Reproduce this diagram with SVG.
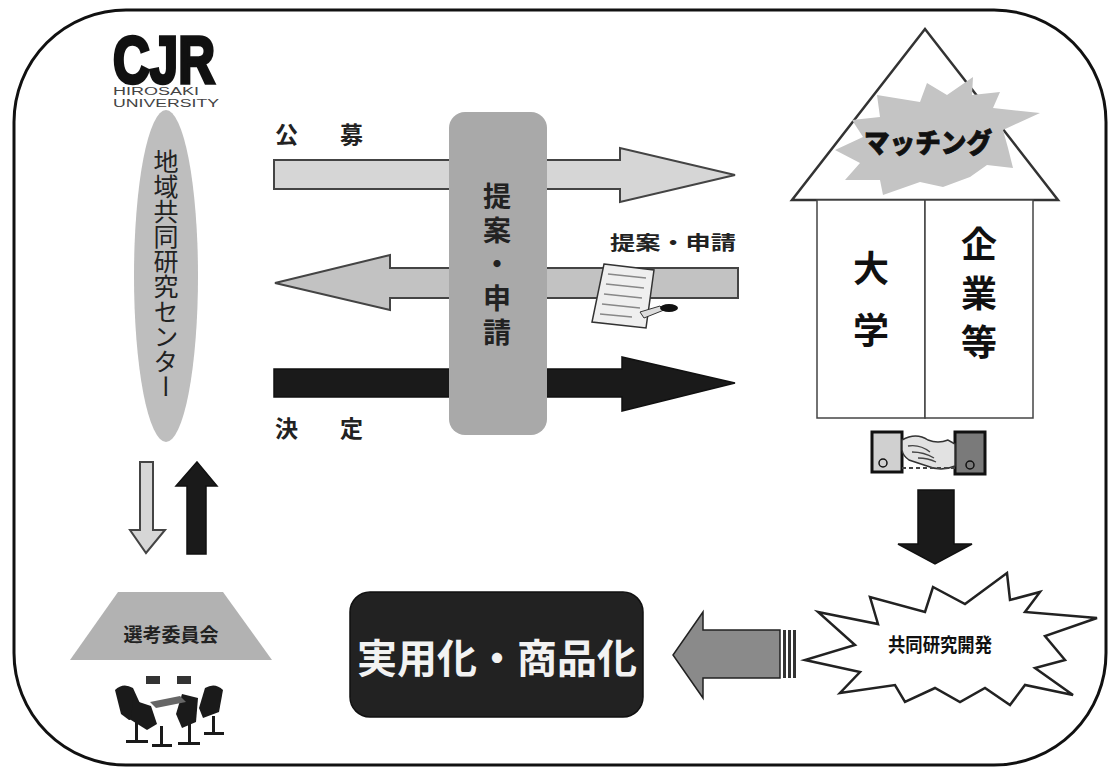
<svg xmlns="http://www.w3.org/2000/svg" width="1108" height="769" viewBox="0 0 1108 769">
  <style>
    .jp { font-family: "Noto Sans CJK JP", "Noto Sans", sans-serif; }
    .b { font-weight: 700; }
    .c { text-anchor: middle; dominant-baseline: central; }
    .vert { writing-mode: vertical-rl; }
    .arrowLight { fill: #d6d6d6; stroke: #444; stroke-width: 2; }
    .arrowMid { fill: #c2c2c2; stroke: #444; stroke-width: 2; }
    .arrowDark { fill: #1a1a1a; stroke: #111; stroke-width: 1.5; }
  </style>

  <rect width="1108" height="769" fill="#ffffff"/>

  <!-- outer frame -->
  <rect x="14" y="10" width="1092" height="755" rx="112" ry="112" fill="none" stroke="#111" stroke-width="3"/>

  <!-- connectors (drawn first so the proposal column sits on top) -->
  <g id="connectors">
    <!-- call for proposals -->
    <polygon class="arrowLight" points="274,160 620,160 620,148 735,175 620,202 620,189 274,189"/>
    <text class="jp b" x="275" y="143" font-size="23" fill="#222">公</text>
    <text class="jp b" x="340" y="143" font-size="23" fill="#222">募</text>

    <!-- application back to centre -->
    <polygon class="arrowMid" points="738,268 390,268 390,255 275,283 390,310 390,298 738,298"/>
    <text class="jp b" x="610" y="250" font-size="19" fill="#222" textLength="126" lengthAdjust="spacingAndGlyphs">提案・申請</text>
    <!-- application form -->
    <g id="form">
      <path d="M604 264 l50 6 l-8 58 l-54 -6 z" fill="#efefef" stroke="#333" stroke-width="1.5"/>
      <path d="M608 274 l38 4 M606 284 l38 4 M604 294 l38 4 M602 304 l38 4 M600 314 l32 3" fill="none" stroke="#888" stroke-width="1.5"/>
      <path d="M640 312 l20 -6 l4 4 l-20 8 z" fill="#ddd" stroke="#333" stroke-width="1"/>
      <ellipse cx="669" cy="308" rx="9" ry="4" fill="#111"/>
    </g>

    <!-- decision -->
    <polygon class="arrowDark" points="274,369 622,369 622,357 735,383 622,411 622,397 274,397"/>
    <text class="jp b" x="275" y="437" font-size="23" fill="#222">決</text>
    <text class="jp b" x="340" y="437" font-size="23" fill="#222">定</text>

    <!-- centre <-> committee -->
    <polygon class="arrowLight" points="140,462 153,462 153,530 165,530 146,553 130,530 140,530" stroke-width="1.5"/>
    <polygon class="arrowDark" points="197,462 217,486 206,486 206,554 187,554 187,486 176,486"/>

    <!-- matching to joint R&D -->
    <polygon class="arrowDark" points="918,490 954,490 954,544 972,544 935,564 898,544 918,544"/>

    <!-- joint R&D to commercialisation -->
    <polygon points="780,630 703,630 703,612 673,655 703,698 703,678 780,678" fill="#8a8a8a" stroke="#222" stroke-width="1.5"/>
    <rect x="783" y="630" width="3" height="48" fill="#333"/>
    <rect x="788" y="630" width="3" height="48" fill="#333"/>
    <rect x="793" y="630" width="3" height="48" fill="#333"/>
  </g>

  <!-- logo -->
  <g id="logo">
    <text x="113" y="83" font-family="'Liberation Sans', sans-serif" font-weight="900" font-size="66" textLength="102" lengthAdjust="spacingAndGlyphs" fill="#111" stroke="#111" stroke-width="3.5">CJR</text>
    <text x="113" y="95" font-family="'Liberation Sans', sans-serif" font-size="10" textLength="86" lengthAdjust="spacingAndGlyphs" fill="#444">HIROSAKI</text>
    <text x="113" y="107" font-family="'Liberation Sans', sans-serif" font-size="10" textLength="106" lengthAdjust="spacingAndGlyphs" fill="#444">UNIVERSITY</text>
  </g>

  <!-- regional joint research centre -->
  <g id="center">
    <ellipse cx="166" cy="276" rx="32" ry="166" fill="#bebebe"/>
    <text class="jp vert" x="166" y="149" font-size="25" fill="#222">地域共同研究センター</text>
  </g>

  <!-- selection committee -->
  <g id="committee">
    <polygon points="118,592 223,592 272,660 70,660" fill="#b2b2b2"/>
    <text class="jp b c" x="171" y="633" font-size="19" fill="#222">選考委員会</text>
    <!-- meeting table and chairs -->
    <g fill="#1a1a1a">
      <rect x="146" y="676" width="14" height="8" fill="#333"/>
      <rect x="177" y="676" width="14" height="8" fill="#333"/>
      <path d="M115 690 q8 -8 18 -2 l10 22 q-4 10 -14 10 l-8 -6 z"/>
      <path d="M133 700 l18 6 l6 18 l-10 6 l-16 -10 z"/>
      <path d="M182 694 l16 4 l-2 24 l-14 6 l-6 -14 z"/>
      <path d="M205 688 q10 -6 18 2 l-4 22 l-16 6 l-4 -10 z"/>
      <rect x="135" y="722" width="3" height="18"/>
      <rect x="160" y="726" width="3" height="18"/>
      <rect x="188" y="724" width="3" height="18"/>
      <rect x="212" y="716" width="3" height="16"/>
      <path d="M126 740 h22 v3 h-22 z M152 744 h20 v3 h-20 z M178 742 h22 v3 h-22 z M204 732 h20 v3 h-20 z"/>
      <path d="M150 702 l30 -6 l6 6 l-30 6 z" fill="#666"/>
    </g>
  </g>

  <!-- proposal / application column -->
  <g id="proposal">
    <rect x="449" y="112" width="98" height="323" rx="16" ry="16" fill="#a9a9a9"/>
    <text class="jp b vert" x="497" y="182" font-size="28" letter-spacing="6" fill="#222">提案・申請</text>
  </g>

  <!-- university / company house -->
  <g id="matching">
    <polygon points="925,29 792,200 1058,200" fill="#fff" stroke="#333" stroke-width="2.5"/>
    <polygon points="877,95 920,102 927,83 947,95 973,77 972,95 1000,92 993,108 1040,113 1003,130 1008,148 1013,168 987,165 970,177 943,187 920,182 883,195 880,180 845,180 860,163 835,150 863,137 852,120 880,117" fill="#c4c4c4"/>
    <text class="jp c" x="928" y="141" font-size="27" font-weight="900" fill="#111" stroke="#111" stroke-width="0.8" textLength="128" lengthAdjust="spacingAndGlyphs">マッチング</text>
  </g>
  <g id="university">
    <rect x="817" y="200" width="108" height="218" fill="#fff" stroke="#444" stroke-width="1.5"/>
    <text class="jp b c" x="871" y="266" font-size="36" fill="#111">大</text>
    <text class="jp b c" x="871" y="328" font-size="36" fill="#111">学</text>
  </g>
  <g id="company">
    <rect x="925" y="200" width="108" height="218" fill="#fff" stroke="#444" stroke-width="1.5"/>
    <text class="jp b vert" x="979" y="226" font-size="36" letter-spacing="13" fill="#111">企業等</text>
  </g>

  <!-- handshake -->
  <g id="handshake">
    <rect x="872" y="432" width="30" height="40" fill="#d0d0d0" stroke="#111" stroke-width="3"/>
    <rect x="955" y="432" width="30" height="42" fill="#7a7a7a" stroke="#111" stroke-width="3"/>
    <circle cx="883" cy="463" r="4" fill="none" stroke="#111" stroke-width="1.5"/>
    <circle cx="970" cy="465" r="4" fill="none" stroke="#111" stroke-width="1.5"/>
    <path d="M902 440 q14 -8 26 0 q10 4 20 0 l7 4 v22 q-14 6 -28 0 l-18 -6 q-6 -4 -7 -10 z" fill="#e2e2e2" stroke="#333" stroke-width="1.5"/>
    <path d="M908 446 q12 -2 22 6 M912 452 q12 0 22 6 M918 458 q10 0 18 4" fill="none" stroke="#444" stroke-width="1.3"/>
    <path d="M902 468 h53" fill="none" stroke="#444" stroke-width="2" stroke-dasharray="4 3"/>
  </g>

  <!-- joint R&D -->
  <g id="jointRD">
    <polygon points="818,612 878,624 870,597 925,612 933,587 965,604 1007,573 1010,600 1040,592 1025,612 1097,618 1045,636 1065,660 1035,668 1073,695 1025,685 1010,705 985,688 960,702 935,688 905,702 895,685 840,693 860,672 805,660 855,645" fill="#fff" stroke="#222" stroke-width="2.5"/>
    <text class="jp b c" x="940" y="643" font-size="19" fill="#111" textLength="104" lengthAdjust="spacingAndGlyphs">共同研究開発</text>
  </g>

  <!-- commercialisation -->
  <g id="product">
    <rect x="350" y="592" width="293" height="125" rx="20" ry="20" fill="#222" stroke="#111" stroke-width="1.5"/>
    <text class="jp b c" x="497" y="656" font-size="40" fill="#f2f2f2">実用化・商品化</text>
  </g>
</svg>
